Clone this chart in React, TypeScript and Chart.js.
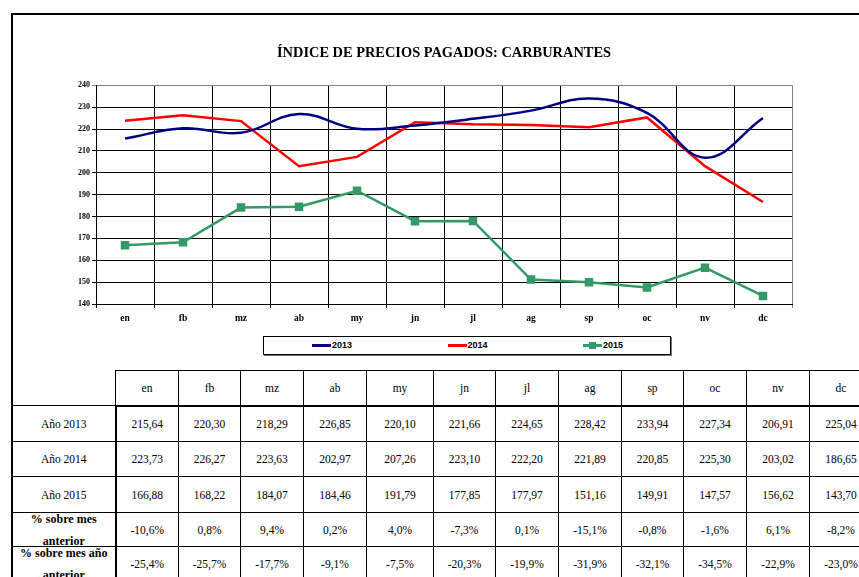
import React, { useEffect, useRef } from "react";
import { Chart, registerables } from "chart.js";

Chart.register(...registerables);

const months = ["en", "fb", "mz", "ab", "my", "jn", "jl", "ag", "sp", "oc", "nv", "dc"];
const y2013 = [215.64, 220.3, 218.29, 226.85, 220.1, 221.66, 224.65, 228.42, 233.94, 227.34, 206.91, 225.04];
const y2014 = [223.73, 226.27, 223.63, 202.97, 207.26, 223.1, 222.2, 221.89, 220.85, 225.3, 203.02, 186.65];
const y2015 = [166.88, 168.22, 184.07, 184.46, 191.79, 177.85, 177.97, 151.16, 149.91, 147.57, 156.62, 143.7];
const pctPrevMonth = ["-10,6%", "0,8%", "9,4%", "0,2%", "4,0%", "-7,3%", "0,1%", "-15,1%", "-0,8%", "-1,6%", "6,1%", "-8,2%"];
const pctPrevYear = ["-25,4%", "-25,7%", "-17,7%", "-9,1%", "-7,5%", "-20,3%", "-19,9%", "-31,9%", "-32,1%", "-34,5%", "-22,9%", "-23,0%"];
const yTicks = { min: 140, max: 240, step: 10 };

const TITLE = "ÍNDICE DE PRECIOS PAGADOS: CARBURANTES";

const series = [
  { label: "2013", data: y2013, color: "#000080", smooth: true, marker: false },
  { label: "2014", data: y2014, color: "#FF0000", smooth: false, marker: false },
  { label: "2015", data: y2015, color: "#339966", smooth: false, marker: true },
];

const tableRows = [
  { label: "Año 2013", values: y2013.map((v) => v.toFixed(2).replace(".", ",")), bold: false },
  { label: "Año 2014", values: y2014.map((v) => v.toFixed(2).replace(".", ",")), bold: false },
  { label: "Año 2015", values: y2015.map((v) => v.toFixed(2).replace(".", ",")), bold: false },
  { label: ["% sobre mes", "anterior"], values: pctPrevMonth, bold: true },
  { label: ["% sobre mes año", "anterior"], values: pctPrevYear, bold: true },
];

const SERIF = '"Times New Roman", "Liberation Serif", serif';
const SANS = 'Arial, "Liberation Sans", sans-serif';

const colW = [63, 62, 63, 63, 67, 62, 63, 63, 62, 63, 63, 63];
const rowH = [36, 35, 36, 34, 35];

export default function App() {
  const ref = useRef<HTMLCanvasElement>(null);

  useEffect(() => {
    const chart = new Chart(ref.current as HTMLCanvasElement, {
      type: "line",
      data: {
        labels: months,
        datasets: series.map((s) => ({
          label: s.label,
          data: s.data,
          borderColor: s.color,
          backgroundColor: s.color,
          borderWidth: 2.5,
          tension: s.smooth ? 0.4 : 0,
          pointRadius: s.marker ? 6 : 0,
          pointStyle: "rect",
          pointBorderWidth: 0,
          pointBackgroundColor: s.color,
          fill: false,
        })),
      },
      options: {
        responsive: false,
        animation: false,
        devicePixelRatio: 1,
        events: [],
        layout: { padding: { left: 0, right: 67, top: 0, bottom: 0 } },
        plugins: {
          legend: { display: false },
          tooltip: { enabled: false },
          title: {
            display: true,
            text: TITLE,
            fullSize: false,
            color: "#000",
            font: { family: SERIF, size: 14.4, weight: "bold" },
            padding: { top: 45, bottom: 23 },
          },
        },
        scales: {
          x: {
            type: "category",
            offset: true,
            grid: {
              offset: true,
              color: (ctx: any) => (ctx.type === "tick" ? "#000" : "#808080"),
              lineWidth: 1,
              tickLength: 4,
            },
            border: { color: "#000", width: 1 },
            ticks: {
              color: "#000",
              padding: 5,
              maxRotation: 0,
              font: { family: SERIF, size: 9.5, weight: "bold" },
            },
            afterFit: (scale: any) => {
              scale.height = 26;
            },
          },
          y: {
            min: yTicks.min,
            max: yTicks.max,
            grid: {
              color: (ctx: any) => (ctx.tick && ctx.tick.value === yTicks.max ? "#808080" : "#000"),
              lineWidth: 1,
              tickLength: 4,
            },
            border: { color: "#000", width: 1 },
            ticks: {
              stepSize: yTicks.step,
              color: "#000",
              padding: 2,
              font: { family: SERIF, size: 8, weight: "bold" },
            },
            afterFit: (scale: any) => {
              scale.width = 96;
            },
          },
        },
      },
    });
    return () => chart.destroy();
  }, []);

  const cell: React.CSSProperties = {
    border: "1px solid #000",
    padding: 0,
    textAlign: "center",
    verticalAlign: "middle",
    fontFamily: SERIF,
    fontSize: 11.5,
    color: "#000",
    overflow: "visible",
  };

  return (
    <div
      style={{
        position: "absolute",
        left: 0,
        top: 0,
        width: 859,
        height: 577,
        overflow: "hidden",
        background: "#fff",
      }}
    >
      <div
        style={{
          position: "absolute",
          left: 11,
          top: 13,
          width: 900,
          height: 700,
          borderTop: "2px solid #000",
          borderLeft: "2px solid #000",
        }}
      />
      <canvas
        ref={ref}
        width={859}
        height={330}
        style={{ position: "absolute", left: 0, top: 0, width: 859, height: 330, display: "block" }}
      />
      {/* legend */}
      <div
        style={{
          position: "absolute",
          left: 263,
          top: 336,
          width: 406,
          height: 17,
          border: "1px solid #000",
          boxShadow: "1px 1px 0 #777",
          background: "transparent",
        }}
      >
        {series.map((s, i) => (
          <div
            key={s.label}
            style={{
              position: "absolute",
              left: 48 + i * 135.5,
              top: 0,
              height: 17,
              display: "flex",
              alignItems: "center",
            }}
          >
            <div style={{ position: "relative", width: 19, height: 3, background: s.color }}>
              {s.marker && (
                <div
                  style={{
                    position: "absolute",
                    left: 6,
                    top: -2.5,
                    width: 7,
                    height: 7,
                    background: s.color,
                  }}
                />
              )}
            </div>
            <span
              style={{
                marginLeft: 1,
                fontFamily: SANS,
                fontWeight: "bold",
                fontSize: 9,
                color: "#000",
                lineHeight: "17px",
              }}
            >
              {s.label}
            </span>
          </div>
        ))}
      </div>
      {/* data table */}
      <table
        style={{
          position: "absolute",
          left: 12,
          top: 370,
          borderCollapse: "collapse",
          tableLayout: "fixed",
          width: 103 + colW.reduce((a, b) => a + b, 0),
        }}
      >
        <colgroup>
          <col style={{ width: 103 }} />
          {colW.map((w, i) => (
            <col key={i} style={{ width: w }} />
          ))}
        </colgroup>
        <tbody>
          <tr style={{ height: 35 }}>
            <td style={{ border: "none", padding: 0 }} />
            {months.map((m) => (
              <td key={m} style={{ ...cell, borderBottom: "2px solid #000" }}>
                {m}
              </td>
            ))}
          </tr>
          {tableRows.map((r, ri) => (
            <tr key={ri} style={{ height: rowH[ri] }}>
              <td
                style={{
                  ...cell,
                  borderRight: "2px solid #000",
                  fontWeight: r.bold ? "bold" : "normal",
                  fontSize: r.bold ? 12 : 11.5,
                }}
              >
                {Array.isArray(r.label) ? (
                  <div
                    style={{
                      height: rowH[ri] - 2,
                      display: "flex",
                      flexDirection: "column",
                      justifyContent: "center",
                      alignItems: "center",
                      lineHeight: "22px",
                      overflow: "visible",
                      whiteSpace: "nowrap",
                    }}
                  >
                    <div style={{ height: 22 }}>{r.label[0]}</div>
                    <div style={{ height: 22 }}>{r.label[1]}</div>
                  </div>
                ) : (
                  r.label
                )}
              </td>
              {r.values.map((v, ci) => (
                <td key={ci} style={cell}>
                  {v}
                </td>
              ))}
            </tr>
          ))}
        </tbody>
      </table>
    </div>
  );
}
